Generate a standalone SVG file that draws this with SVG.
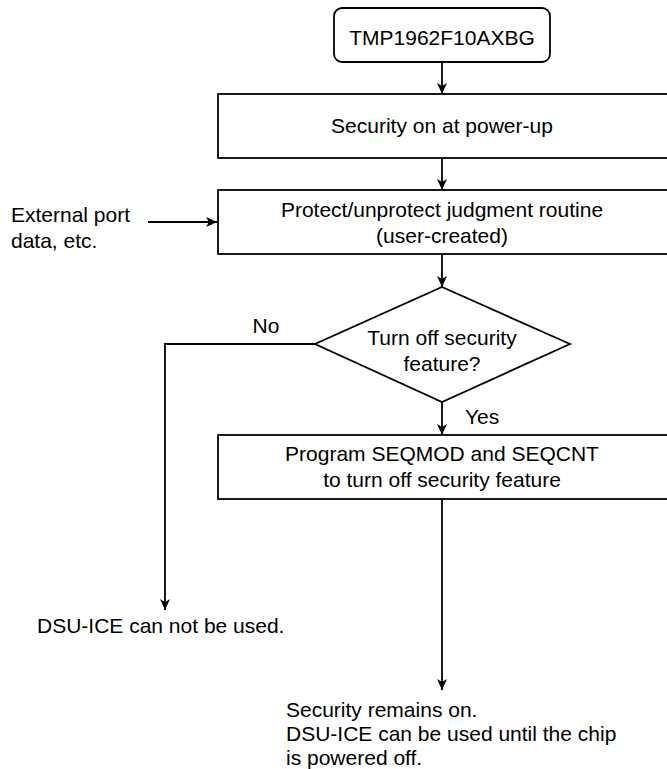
<svg xmlns="http://www.w3.org/2000/svg" width="667" height="769" viewBox="0 0 667 769">
<style>
.box{fill:#fff;stroke:#000;stroke-width:1.8}
.ln{fill:none;stroke:#000;stroke-width:1.8}
text{font-family:"Liberation Sans",Arial,sans-serif;font-size:21px;fill:#000}
.c{text-anchor:middle}
</style>
<defs>
<marker id="ah" markerUnits="userSpaceOnUse" markerWidth="12" markerHeight="12" refX="11" refY="6" orient="auto">
<path d="M0,1 L11,6 L0,11 L3,6 z" fill="#000"/>
</marker>
</defs>
<g id="connectors">
<line class="ln" x1="442" y1="62" x2="442" y2="94" marker-end="url(#ah)"/>
<line class="ln" x1="442" y1="158" x2="442" y2="190" marker-end="url(#ah)"/>
<line class="ln" x1="148" y1="222" x2="217" y2="222" marker-end="url(#ah)"/>
<line class="ln" x1="442" y1="254" x2="442" y2="287" marker-end="url(#ah)"/>
<polyline class="ln" points="315,344 165,344 165,610" marker-end="url(#ah)"/>
<line class="ln" x1="442" y1="402" x2="442" y2="435" marker-end="url(#ah)"/>
<line class="ln" x1="442" y1="499" x2="442" y2="690" marker-end="url(#ah)"/>
<text x="266" y="333" class="c">No</text>
<text x="465" y="424">Yes</text>
</g>
<g id="n1">
<rect class="box" x="334" y="8" width="216" height="54" rx="8"/>
<text x="442" y="45" class="c">TMP1962F10AXBG</text>
</g>
<g id="n2">
<rect class="box" x="218" y="94" width="452" height="64"/>
<text x="442" y="133" class="c">Security on at power-up</text>
</g>
<g id="n3">
<rect class="box" x="218" y="190" width="452" height="64"/>
<text x="442" y="217" class="c">Protect/unprotect judgment routine</text>
<text x="442" y="243" class="c">(user-created)</text>
</g>
<g id="ext">
<text x="11" y="222">External port</text>
<text x="11" y="248">data, etc.</text>
</g>
<g id="n4">
<polygon class="box" points="442,287 570,344 442,402 315,344"/>
<text x="442" y="345" class="c">Turn off security</text>
<text x="442" y="371" class="c">feature?</text>
</g>
<g id="n5">
<rect class="box" x="218" y="435" width="452" height="64"/>
<text x="442" y="461" class="c">Program SEQMOD and SEQCNT</text>
<text x="442" y="487" class="c">to turn off security feature</text>
</g>
<g id="n6">
<text x="37" y="633">DSU-ICE can not be used.</text>
</g>
<g id="n7">
<text x="286" y="717">Security remains on.</text>
<text x="286" y="741">DSU-ICE can be used until the chip</text>
<text x="286" y="765">is powered off.</text>
</g>
</svg>
